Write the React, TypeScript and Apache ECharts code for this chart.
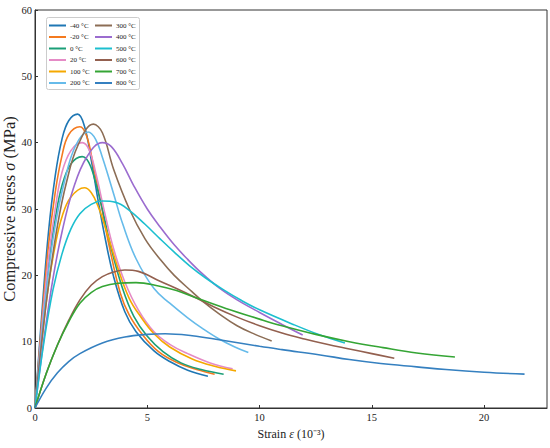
import React, { useEffect, useRef } from "react";
import * as echarts from "echarts";

// Temperature labels (legend order)
const temps = ["-40 °C", "-20 °C", "0 °C", "20 °C", "100 °C", "200 °C", "300 °C", "400 °C", "500 °C", "600 °C", "700 °C", "800 °C"];
const colors = ["#1f77b4", "#f47a1f", "#1b9e77", "#e58bc6", "#f5a800", "#66bbea", "#8c6d55", "#9b6ccf", "#1cbfcf", "#93604f", "#35a535", "#3580c0"];

// [strain (10^-3), stress (MPa)]
const cM40 = [[0,0],[0.3,14],[0.6,26.5],[0.9,35],[1.2,40.5],[1.5,43.3],[1.9,44.3],[2.2,42.5],[2.5,37.5],[2.8,31.5],[3.1,26],[3.5,19.8],[4.0,14.5],[4.5,11.5],[5.3,8.6],[6.0,7.0],[6.8,5.7],[7.7,4.8]];
const cM20 = [[0,0],[0.3,13],[0.6,24.5],[0.9,32.5],[1.2,38],[1.5,41.2],[2.0,42.4],[2.3,41],[2.6,36.5],[2.9,31.4],[3.3,24.5],[3.8,17.3],[4.2,14],[4.8,11],[5.5,8.5],[6.3,6.9],[7.2,5.8],[8.0,5.1]];
const c0 = [[0,0],[0.3,11.5],[0.6,21.5],[0.9,28.5],[1.2,33.5],[1.6,36.8],[2.1,37.9],[2.4,37],[2.7,34],[3.0,30],[3.4,24],[3.9,18],[4.4,13.8],[5.0,10.8],[5.7,8.5],[6.5,6.8],[7.4,5.8],[8.4,5.1]];
const c20 = [[0,0],[0.3,12],[0.6,22.5],[0.9,30],[1.2,35.5],[1.6,38.8],[2.1,40],[2.4,39],[2.7,35.5],[3.1,29.5],[3.5,24],[4.0,19],[4.6,14.8],[5.3,11.5],[6.0,9.6],[6.8,8.2],[7.8,6.8],[8.8,5.9]];
const c100 = [[0,0],[0.3,10],[0.6,18.5],[0.9,24.5],[1.2,28.8],[1.6,31.8],[2.2,33.2],[2.5,32.5],[2.8,30.5],[3.2,26.5],[3.7,21],[4.2,16.5],[4.7,13.8],[5.3,11.2],[6.0,9.2],[7.0,7.4],[8.0,6.3],[8.95,5.6]];
const c200 = [[0,0],[0.3,11],[0.6,20.5],[0.9,27.5],[1.3,34],[1.8,39.5],[2.37,41.6],[2.7,40.5],[3.0,37.8],[3.5,32.3],[3.9,27.8],[4.5,22.5],[5.3,18],[6.0,15.8],[6.8,13.6],[7.5,11.9],[8.2,10.4],[8.9,9.2],[9.5,8.35]];
const c300 = [[0,0],[0.3,10],[0.6,18.5],[1.0,27.5],[1.4,34],[1.9,39.5],[2.6,42.8],[3.0,41.5],[3.5,36],[4.2,30],[4.9,25.5],[5.6,22.3],[6.2,20.0],[7.0,17.5],[7.5,16.0],[8.2,14.2],[9.0,12.4],[9.8,11.1],[10.54,10.1]];
const c400 = [[0,0],[0.4,10.5],[0.8,19.5],[1.2,26.5],[1.7,33],[2.3,37.8],[3.0,40],[3.4,39.4],[3.9,36.8],[4.4,33.5],[5.0,30.0],[5.57,27.3],[6.2,24.6],[6.8,22.4],[7.4,20.4],[8.2,18.1],[9.0,16.3],[10,14.4],[11,12.6],[11.92,11.0]];
const c500 = [[0,0],[0.4,10],[0.8,17.8],[1.2,23.2],[1.6,27],[2.0,29.3],[2.5,30.7],[3.0,31.2],[3.6,31.0],[4.2,29.8],[4.9,27.7],[5.57,25.5],[6.2,23.5],[6.9,21.4],[7.6,19.6],[8.4,17.8],[9.2,16.2],[10,14.8],[11.5,12.6],[12.7,11.0],[13.8,9.8]];
const c600 = [[0,0],[0.5,5.2],[1.0,9.5],[1.5,13.2],[2.0,16.3],[2.5,18.5],[3.0,19.8],[3.5,20.5],[4.0,20.8],[4.6,20.6],[5.57,19.1],[6.3,18.0],[7.05,16.8],[8.0,15.2],[9.0,13.7],[10,12.4],[11,11.3],[12,10.4],[13,9.6],[14,8.9],[15,8.2],[16,7.5]];
const c700 = [[0,0],[0.5,5.2],[1.0,9.5],[1.5,13.0],[2.0,15.8],[2.5,17.4],[3.0,18.3],[3.7,18.8],[4.5,18.9],[5.5,18.4],[6.3,17.7],[7.1,16.7],[8.5,15.0],[10,13.4],[11,12.4],[12.5,11.1],[14,10.0],[15.5,9.1],[17,8.3],[18.7,7.7]];
const c800 = [[0,0],[0.5,3.0],[1.0,5.3],[1.5,7.0],[2.0,8.2],[3.0,9.8],[4.0,10.7],[5.0,11.1],[5.8,11.2],[7.0,10.9],[8.2,10.3],[10,9.3],[11,8.8],[12.7,8.0],[14,7.3],[15.4,6.7],[17,6.2],[18.3,5.8],[20,5.4],[21.8,5.1]];

const curves = [cM40, cM20, c0, c20, c100, c200, c300, c400, c500, c600, c700, c800];

const xTicks = [0, 5, 10, 15, 20];
const yTicks = [0, 10, 20, 30, 40, 50, 60];

const FONT = "Liberation Serif, Times New Roman, serif";

export default function App() {
  const ref = useRef<HTMLDivElement>(null);
  useEffect(() => {
    document.body.style.margin = "0";
    const chart = echarts.init(ref.current!, null, { renderer: "svg" });
    const legendCommon = {
      orient: "vertical",
      top: 21.5,
      itemWidth: 17,
      itemHeight: 2,
      itemGap: 3.5,
      padding: 0,
      icon: "rect",
      textStyle: { fontFamily: FONT, fontSize: 7, color: "#222", lineHeight: 8, padding: [0, 0, 0, -1] },
      z: 5,
    };
    chart.setOption({
      animation: false,
      grid: { left: 35, right: 3, top: 10, bottom: 40, show: true, borderColor: "#333", borderWidth: 1, containLabel: false, outerBoundsMode: "none" },
      xAxis: {
        type: "value",
        min: 0,
        max: 22.8,
        interval: 5,
        name: "Strain {i|ε} (10⁻³)",
        nameLocation: "middle",
        nameGap: 20,
        nameMoveOverlap: false,
        nameTextStyle: { fontFamily: FONT, fontSize: 12, color: "#222", rich: { i: { fontStyle: "italic", fontFamily: FONT, fontSize: 12, color: "#222" } } },
        axisLine: { lineStyle: { color: "#333", width: 1 } },
        axisTick: { inside: true, length: 3, lineStyle: { color: "#333" } },
        axisLabel: {
          fontFamily: FONT, fontSize: 10.5, color: "#222", margin: 4, showMaxLabel: false,
          formatter: (v: number) => (xTicks.includes(v) ? String(v) : ""),
        },
        splitLine: { show: false },
      },
      yAxis: {
        type: "value",
        min: 0,
        max: 60,
        interval: 10,
        name: "Compressive stress {i|σ} (MPa)",
        nameLocation: "middle",
        nameGap: 17,
        nameMoveOverlap: false,
        nameTextStyle: { fontFamily: FONT, fontSize: 16.5, color: "#222", rich: { i: { fontStyle: "italic", fontFamily: FONT, fontSize: 16.5, color: "#222" } } },
        axisLine: { lineStyle: { color: "#333", width: 1 } },
        axisTick: { inside: true, length: 3, lineStyle: { color: "#333" } },
        axisLabel: {
          fontFamily: FONT, fontSize: 10.5, color: "#222", margin: 3,
          formatter: (v: number) => (yTicks.includes(v) ? String(v) : ""),
        },
        splitLine: { show: false },
      },
      legend: [
        { ...legendCommon, left: 49, data: temps.slice(0, 6) },
        { ...legendCommon, left: 95, data: temps.slice(6) },
      ],
      graphic: [
        {
          type: "rect",
          z: 4,
          shape: { x: 46.5, y: 17.5, width: 93, height: 72, r: 2 },
          style: { fill: "rgba(255,255,255,0.85)", stroke: "#cccccc", lineWidth: 1 },
        },
      ],
      series: curves.map((c, i) => ({
        name: temps[i],
        type: "line",
        data: c,
        smooth: 0.4,
        showSymbol: false,
        symbol: "none",
        lineStyle: { width: 1.6, color: colors[i] },
        itemStyle: { color: colors[i] },
        z: 2,
      })),
    });
    return () => chart.dispose();
  }, []);
  return <div ref={ref} style={{ width: 550, height: 448 }} />;
}
